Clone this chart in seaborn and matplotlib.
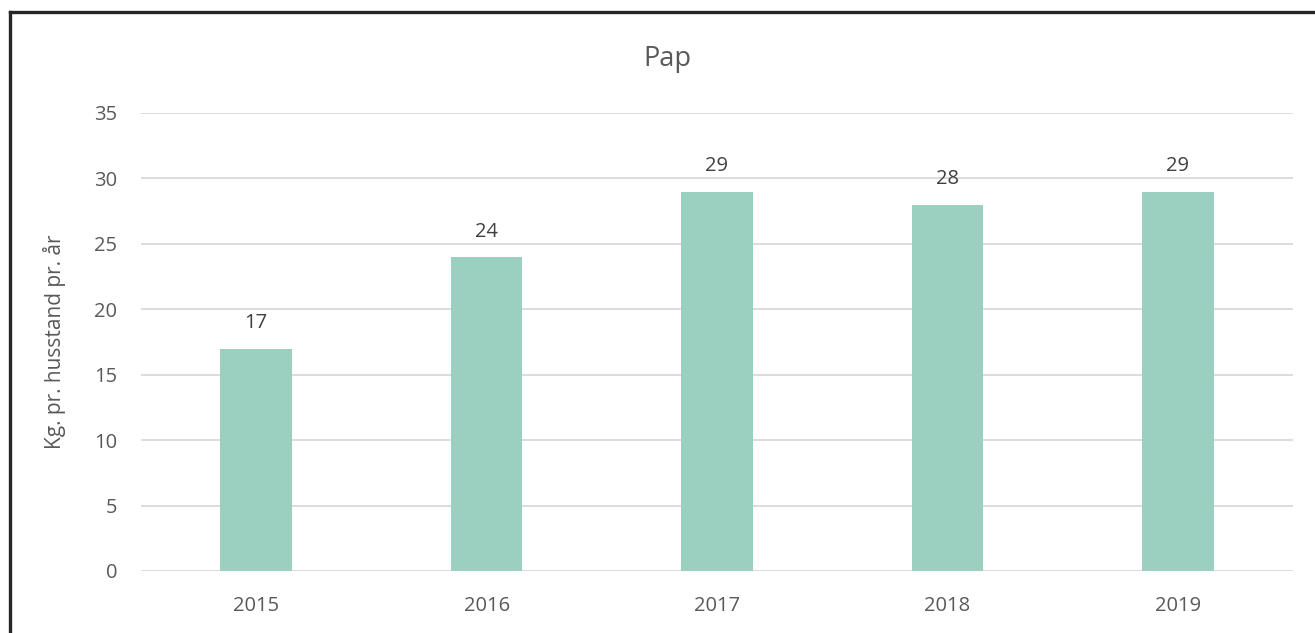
import matplotlib
matplotlib.use("Agg")
import matplotlib.pyplot as plt
import seaborn as sns
import pandas as pd
from matplotlib.lines import Line2D

years = ["2015", "2016", "2017", "2018", "2019"]
values = [17, 24, 29, 28, 29]
yticks = [0, 5, 10, 15, 20, 25, 30, 35]

sns.set_theme(style="white")
plt.rcParams['font.family'] = ['Open Sans', 'DejaVu Sans']

W, H = 1315, 633
fig = plt.figure(figsize=(W / 100, H / 100), dpi=100)
ax = fig.add_axes([141 / W, 1 - 571 / H, (1293 - 141) / W, (571 - 113) / H])

df = pd.DataFrame({"year": years, "value": values})
sns.barplot(data=df, x="year", y="value", color="#9BD0C0", saturation=1,
            width=0.31, linewidth=0, ax=ax, zorder=3)

ax.set_xlim(-0.5, 4.5)
ax.set_ylim(0, 35)
ax.set_yticks(yticks)
ax.grid(axis="y", color="#d9d9d9", linewidth=1.3, zorder=0)
ax.grid(axis="x", visible=False)
for s in ax.spines.values():
    s.set_visible(False)
ax.tick_params(axis="both", length=0, labelsize=14.5, labelcolor="#595959")
ax.tick_params(axis="y", pad=17)
ax.tick_params(axis="x", pad=18)
ax.set_xlabel("")
ax.set_ylabel("Kg. pr. husstand pr. år", fontsize=15, color="#595959", labelpad=20)

for p, v in zip(ax.patches, values):
    ax.annotate(str(v), (p.get_x() + p.get_width() / 2, p.get_height()),
                xytext=(0, 11), textcoords="offset points", ha="center",
                va="bottom", fontsize=14.5, color="#404040")

fig.text(0.5073, 1 - 59 / H, "Pap", ha="center", va="center", fontsize=19.5, color="#595959")

# outer frame (left and top edges)
fig.add_artist(Line2D([10 / W, 10 / W], [0, 1 - 12 / H], transform=fig.transFigure,
                      color="#262626", linewidth=2.4, solid_capstyle="projecting"))
fig.add_artist(Line2D([10 / W, 1], [1 - 12 / H, 1 - 12 / H], transform=fig.transFigure,
                      color="#262626", linewidth=2.4, solid_capstyle="projecting"))

fig.savefig("out.png", dpi=100, facecolor="white")
